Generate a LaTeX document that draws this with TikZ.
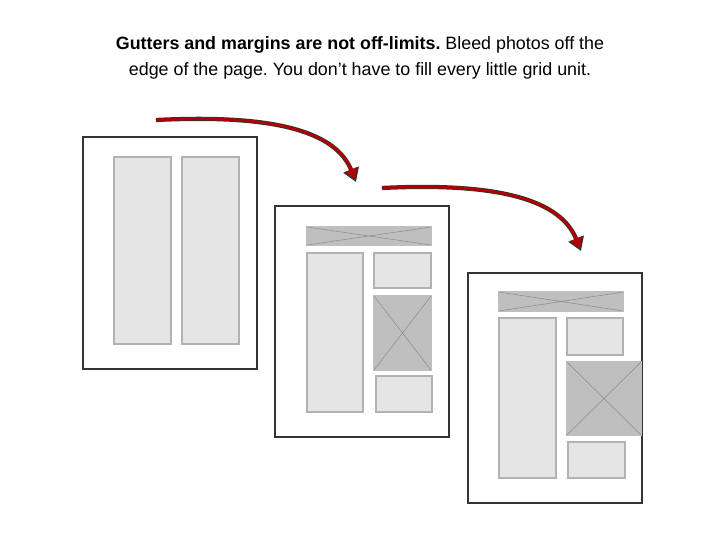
\documentclass[tikz,border=0pt]{standalone}
\usepackage{fontspec}
\setmainfont{Liberation Sans}
\usetikzlibrary{arrows.meta,calc}
\begin{document}
\frenchspacing
\begin{tikzpicture}[x=0.75pt,y=-0.75pt,
 page/.style={draw=black!80,line width=1.2pt,fill=white},
 col/.style={draw=black!30,line width=1pt,fill=black!10},
 photo/.style={draw=black!25,line width=0.8pt,fill=black!25},
 arr/.style={draw=black!80,line width=3.2pt,-{Triangle[length=10pt,width=12pt]}},
 arrin/.style={draw=red!70!black,line width=2pt,-{Triangle[length=8pt,width=9pt]}}]
\useasboundingbox (0,0) rectangle (720,540);
\node[align=center,font=\fontsize{13.4}{20}\selectfont\frenchspacing] (title) at (360,58) {\textbf{Gutters and margins are not off-limits.} Bleed photos off the\\edge of the page. You don\char"0027 t have to fill every little grid unit.};
% page 1
\draw[page] (83,137) rectangle (257,369);
\draw[col] (114,157) rectangle (171,344);
\draw[col] (182,157) rectangle (239,344);
% page 2
\draw[page] (275,206) rectangle (449,437);
\draw[photo] (307,227) rectangle (431,245);
\draw[black!45] (307,227) -- (431,245) (307,245) -- (431,227);
\draw[col] (307,253) rectangle (363,412);
\draw[col] (374,253) rectangle (431,288);
\draw[photo] (374,296) rectangle (431,370);
\draw[black!45] (374,296) -- (431,370) (374,370) -- (431,296);
\draw[col] (376,376) rectangle (432,412);
% page 3
\draw[page] (468,273) rectangle (642,503);
\draw[photo] (499,292) rectangle (623,311);
\draw[black!45] (499,292) -- (623,311) (499,311) -- (623,292);
\draw[col] (499,318) rectangle (556,478);
\draw[col] (567,318) rectangle (623,355);
\draw[photo] (567,362) rectangle (641,435);
\draw[black!45] (567,362) -- (641,435) (567,435) -- (641,362);
\draw[col] (568,442) rectangle (625,478);
% arrows
\coordinate (a1s) at (156,120); \coordinate (a1e) at (356,182);
\coordinate (a2s) at (382,188); \coordinate (a2e) at (581,251);
\foreach \s/\e in {a1s/a1e,a2s/a2e}{
 \draw[arr] (\s) .. controls ($(\s)+(120,-6)$) and ($(\e)+(-20,-50)$) .. (\e);
 \draw[arrin,shorten >=2pt] (\s) .. controls ($(\s)+(120,-6)$) and ($(\e)+(-20,-50)$) .. (\e);
}
\end{tikzpicture}
\end{document}
